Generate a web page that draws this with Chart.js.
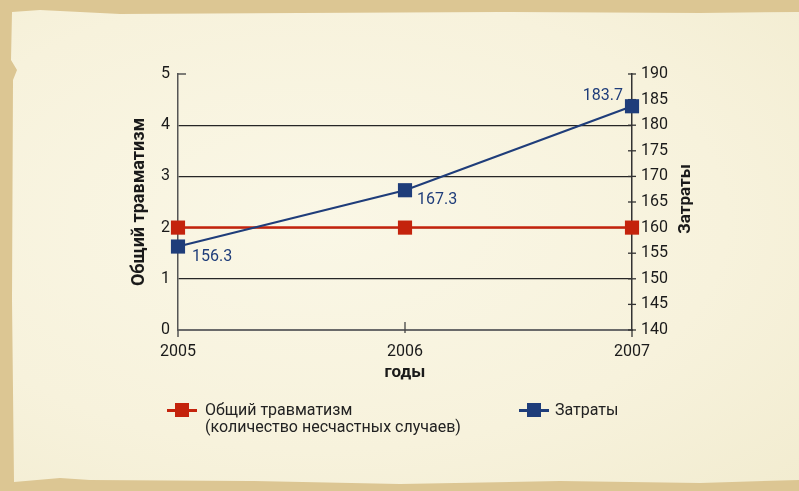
<!DOCTYPE html>
<html>
<head>
<meta charset="utf-8">
<script src="https://cdn.jsdelivr.net/npm/chart.js@4"></script>
<style>
  html,body{margin:0;padding:0;width:799px;height:491px;overflow:hidden;background:#dcc693;}
  #paper{position:absolute;left:0;top:0;width:799px;height:491px;
    background:radial-gradient(ellipse at 40% 45%, #faf7e6 0%, #f7f2dc 60%, #f2ecd0 100%);
    clip-path:polygon(12px 12px, 40px 10px, 120px 14px, 300px 13px, 500px 12px, 700px 13px, 799px 12px, 799px 480px, 700px 483px, 560px 481px, 400px 484px, 250px 481px, 90px 480px, 60px 478px, 14px 482px, 12px 300px, 13px 80px, 17px 70px, 11px 60px);}
  canvas{position:absolute;left:0;top:0;}
  .legend{position:absolute;font-family:Roboto,"Noto Sans",sans-serif;font-size:16px;color:#222;line-height:17px;}
  .mk{position:absolute;width:30px;height:14px;}
  .mk .ln{position:absolute;left:0;top:6px;width:30px;height:2.5px;}
  .mk .sq{position:absolute;left:8px;top:0;width:14px;height:14px;}
</style>
</head>
<body>
<div id="paper"></div>
<canvas id="c" width="799" height="491"></canvas>
<div class="mk" style="left:167px;top:403px;"><div class="ln" style="background:#c4230c"></div><div class="sq" style="background:#c4230c"></div></div>
<div class="legend" style="left:205px;top:401px;">Общий травматизм<br>(количество несчастных случаев)</div>
<div class="mk" style="left:519px;top:403px;"><div class="ln" style="background:#1f3d7a"></div><div class="sq" style="background:#1f3d7a"></div></div>
<div class="legend" style="left:555px;top:401px;">Затраты</div>
<script>
const years = ['2005', '2006', '2007'];
const injuries = [2, 2, 2];
const costs = [156.3, 167.3, 183.7];
const injuriesName = 'Общий травматизм (количество несчастных случаев)';
const costsName = 'Затраты';
const xTitle = 'годы';
const yLeftTitle = 'Общий травматизм';
const yRightTitle = 'Затраты';

const RED = '#c4230c';
const BLUE = '#1f3d7a';
const FONT = 'Roboto, "Noto Sans", sans-serif';

const decor = {
  id: 'decor',
  beforeDatasetsDraw(chart) {
    const ctx = chart.ctx;
    const x = chart.scales.x, y = chart.scales.y, y1 = chart.scales.y1;
    const L = chart.chartArea.left, R = chart.chartArea.right, B = chart.chartArea.bottom;
    ctx.save();
    ctx.strokeStyle = '#555'; ctx.lineWidth = 1.5;
    ctx.beginPath(); ctx.moveTo(L, B); ctx.lineTo(L, B + 7); ctx.stroke();
    const t5 = y.getPixelForValue(5);
    ctx.beginPath(); ctx.moveTo(L, t5); ctx.lineTo(L + 8, t5); ctx.stroke();
    ctx.strokeStyle = '#333'; ctx.lineWidth = 1.3;
    ctx.beginPath(); ctx.moveTo(R, B); ctx.lineTo(R, B + 7); ctx.stroke();
    y1.ticks.forEach(t => {
      const py = y1.getPixelForValue(t.value);
      ctx.beginPath(); ctx.moveTo(R - 4, py); ctx.lineTo(R + 4, py); ctx.stroke();
    });
    ctx.strokeStyle = '#444'; ctx.lineWidth = 1.3;
    const px = x.getPixelForValue(1);
    ctx.beginPath(); ctx.moveTo(px, B - 8); ctx.lineTo(px, B + 3); ctx.stroke();
    ctx.restore();
  },
  afterDatasetsDraw(chart) {
    const ctx = chart.ctx;
    const pts = chart.getDatasetMeta(1).data;
    ctx.save();
    ctx.font = '16px ' + FONT;
    ctx.fillStyle = BLUE;
    ctx.textBaseline = 'middle';
    ctx.textAlign = 'left';
    ctx.fillText(costs[0].toFixed(1), pts[0].x + 14, pts[0].y + 10);
    ctx.fillText(costs[1].toFixed(1), pts[1].x + 12, pts[1].y + 10);
    ctx.textAlign = 'right';
    ctx.fillText(costs[2].toFixed(1), pts[2].x - 9, pts[2].y - 10);
    const ca = chart.chartArea;
    ctx.translate(686, (ca.top + ca.bottom) / 2 - 3);
    ctx.rotate(-Math.PI / 2);
    ctx.font = 'bold 17px ' + FONT;
    ctx.fillStyle = '#1a1a1a';
    ctx.textAlign = 'center';
    ctx.fillText(yRightTitle, 0, 0);
    ctx.restore();
  }
};

new Chart(document.getElementById('c'), {
  type: 'line',
  data: {
    labels: years,
    datasets: [
      { label: injuriesName, data: injuries, yAxisID: 'y', borderColor: RED, backgroundColor: RED,
        borderWidth: 2.5, pointStyle: 'rect', pointRadius: 10, pointBorderWidth: 0, pointHoverRadius: 10, order: 2 },
      { label: costsName, data: costs, yAxisID: 'y1', borderColor: BLUE, backgroundColor: BLUE,
        borderWidth: 2.2, pointStyle: 'rect', pointRadius: 10, pointBorderWidth: 0, pointHoverRadius: 10, order: 1 }
    ]
  },
  options: {
    responsive: false,
    animation: false,
    devicePixelRatio: 1,
    layout: { padding: { top: 74, left: 0, right: 0, bottom: 0 } },
    plugins: { legend: { display: false }, tooltip: { enabled: false } },
    scales: {
      x: {
        offset: false,
        grid: { display: false, drawTicks: false },
        border: { display: true, color: '#6a6a6a', width: 2 },
        ticks: { padding: 12, color: '#1a1a1a', font: { family: FONT, size: 16 }, maxRotation: 0 },
        title: { display: true, text: xTitle, color: '#1a1a1a', font: { family: FONT, size: 17, weight: 'bold' }, padding: { top: 0, bottom: 108 } },
        afterFit(s) { s.height = 161; }
      },
      y: {
        position: 'left', min: 0, max: 5,
        ticks: { stepSize: 1, padding: 8, color: '#1a1a1a', font: { family: FONT, size: 16 } },
        grid: { drawTicks: false, lineWidth: 1.3,
          color: c => (c.tick && (c.tick.value === 0 || c.tick.value === 5)) ? 'rgba(0,0,0,0)' : '#262626' },
        border: { display: true, color: '#555', width: 1.5 },
        title: { display: true, text: yLeftTitle, color: '#1a1a1a', font: { family: FONT, size: 18, weight: 'bold' }, padding: { top: 129, bottom: 0 } },
        afterFit(s) { s.width = 178; }
      },
      y1: {
        position: 'right', min: 140, max: 190,
        ticks: { stepSize: 5, padding: 9, color: '#1a1a1a', font: { family: FONT, size: 16 } },
        grid: { drawOnChartArea: false, drawTicks: false },
        border: { display: true, color: '#333', width: 1.5 },
        afterFit(s) { s.width = 167; }
      }
    }
  },
  plugins: [decor]
});
</script>
</body>
</html>
